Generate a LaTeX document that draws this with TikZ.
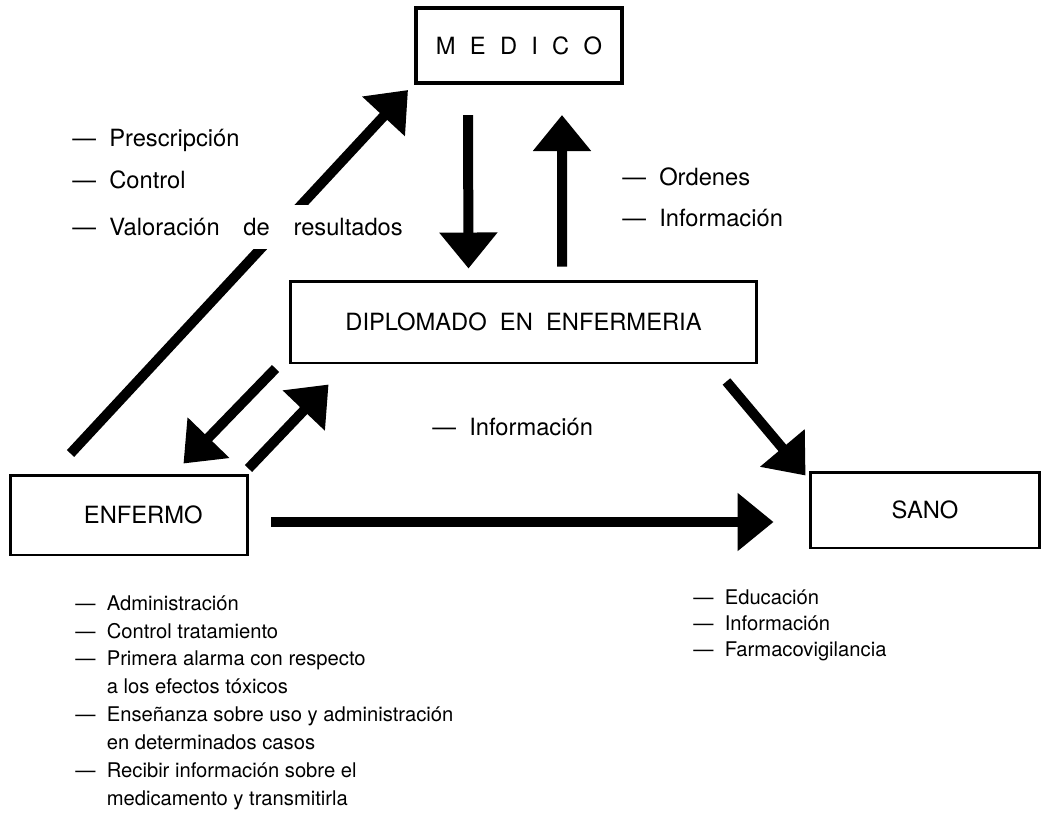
\documentclass[tikz,border=0pt]{standalone}
\usepackage{fontspec}
\setmainfont{TeX Gyre Heros}
\usetikzlibrary{positioning, arrows.meta}

\begin{document}
\begin{tikzpicture}[x=0.02cm, y=-0.02cm,
    every node/.style={font=\fontsize{13.5}{15.9}\selectfont},
    caja/.style={draw, line width=1.7pt, inner sep=0pt},
    flecha/.style={line width=0.2cm, -{Triangle[length=0.72cm, width=1.12cm]}},
    lista/.style={anchor=west, inner sep=0pt}]
    \useasboundingbox (0,0) rectangle (1044,815);
    % Draw the boxes
    \node[caja, line width=2.3pt, minimum width=4.12cm, minimum height=1.5cm] (medico) at (519,45.5)
        {M\hspace{.6em}E\hspace{.6em}D\hspace{.6em}I\hspace{.6em}C\hspace{.6em}O};
    \node[caja, minimum width=9.34cm, minimum height=1.64cm] (diplomado) at (523.5,322) {DIPLOMADO\ \ EN\ \ ENFERMERIA};
    \node[caja, minimum width=4.76cm, minimum height=1.6cm] (enfermo) at (129,515) {\hspace{1.2em}ENFERMO};
    \node[caja, minimum width=4.6cm, minimum height=1.52cm] (sano) at (925,510) {SANO};
    % Draw the arrows between the boxes
    \draw[flecha] ([shift={(62,-20)}]enfermo.north west) -- ([shift={(-6,5)}]medico.south west);
    \draw[flecha] ([shift={(-51,30)}]medico.south) -- ([shift={(-55,-11)}]diplomado.north);
    \draw[flecha] ([shift={(38.5,-13)}]diplomado.north) -- ([shift={(43,30)}]medico.south);
    \draw[flecha] ([shift={(-13,4)}]diplomado.south west) -- ([shift={(-66,-10)}]enfermo.north east);
    \draw[flecha] ([shift={(-1,-5)}]enfermo.north east) -- ([shift={(40,20)}]diplomado.south west);
    \draw[flecha] ([shift={(-32,17)}]diplomado.south east) -- ([shift={(-3,5)}]sano.north west);
    \draw[flecha] ([shift={(22,7)}]enfermo.east) -- ([shift={(-35,12)}]sano.west);
    % Labels
    \node[lista] (prescripcion) at (72,140) {—\ \ Prescripción};
    \node[lista] (control) at (72,180) {—\ \ Control};
    \node[lista, fill=white, inner ysep=0.26cm] (valoracion) at (72,227) {—\ \ Valoración\hspace{1em}de\hspace{1em}resultados};
    \node[lista] (ordenes) at (622,177) {—\ \ Ordenes};
    \node[lista] (info1) at (622,218) {—\ \ Información};
    \node[lista] (info2) at (432,427) {—\ \ Información};
    \node[inner sep=0pt, anchor=north west, align=left, font=\fontsize{11.5}{15.9}\selectfont] (tareas) at (75,595)
        {—\ \ Administración\\
         —\ \ Control\ tratamiento\\
         —\ \ Primera\ alarma\ con\ respecto\\
         \phantom{—}\ \ a\ los\ efectos\ tóxicos\\
         —\ \ Enseñanza\ sobre\ uso\ y\ administración\\
         \phantom{—}\ \ en\ determinados\ casos\\
         —\ \ Recibir\ información\ sobre\ el\\
         \phantom{—}\ \ medicamento\ y\ transmitirla};
    \node[inner sep=0pt, anchor=north west, align=left, font=\fontsize{11.5}{14.8}\selectfont] (educacion) at (693,589)
        {—\ \ Educación\\
         —\ \ Información\\
         —\ \ Farmacovigilancia};
\end{tikzpicture}
\end{document}
